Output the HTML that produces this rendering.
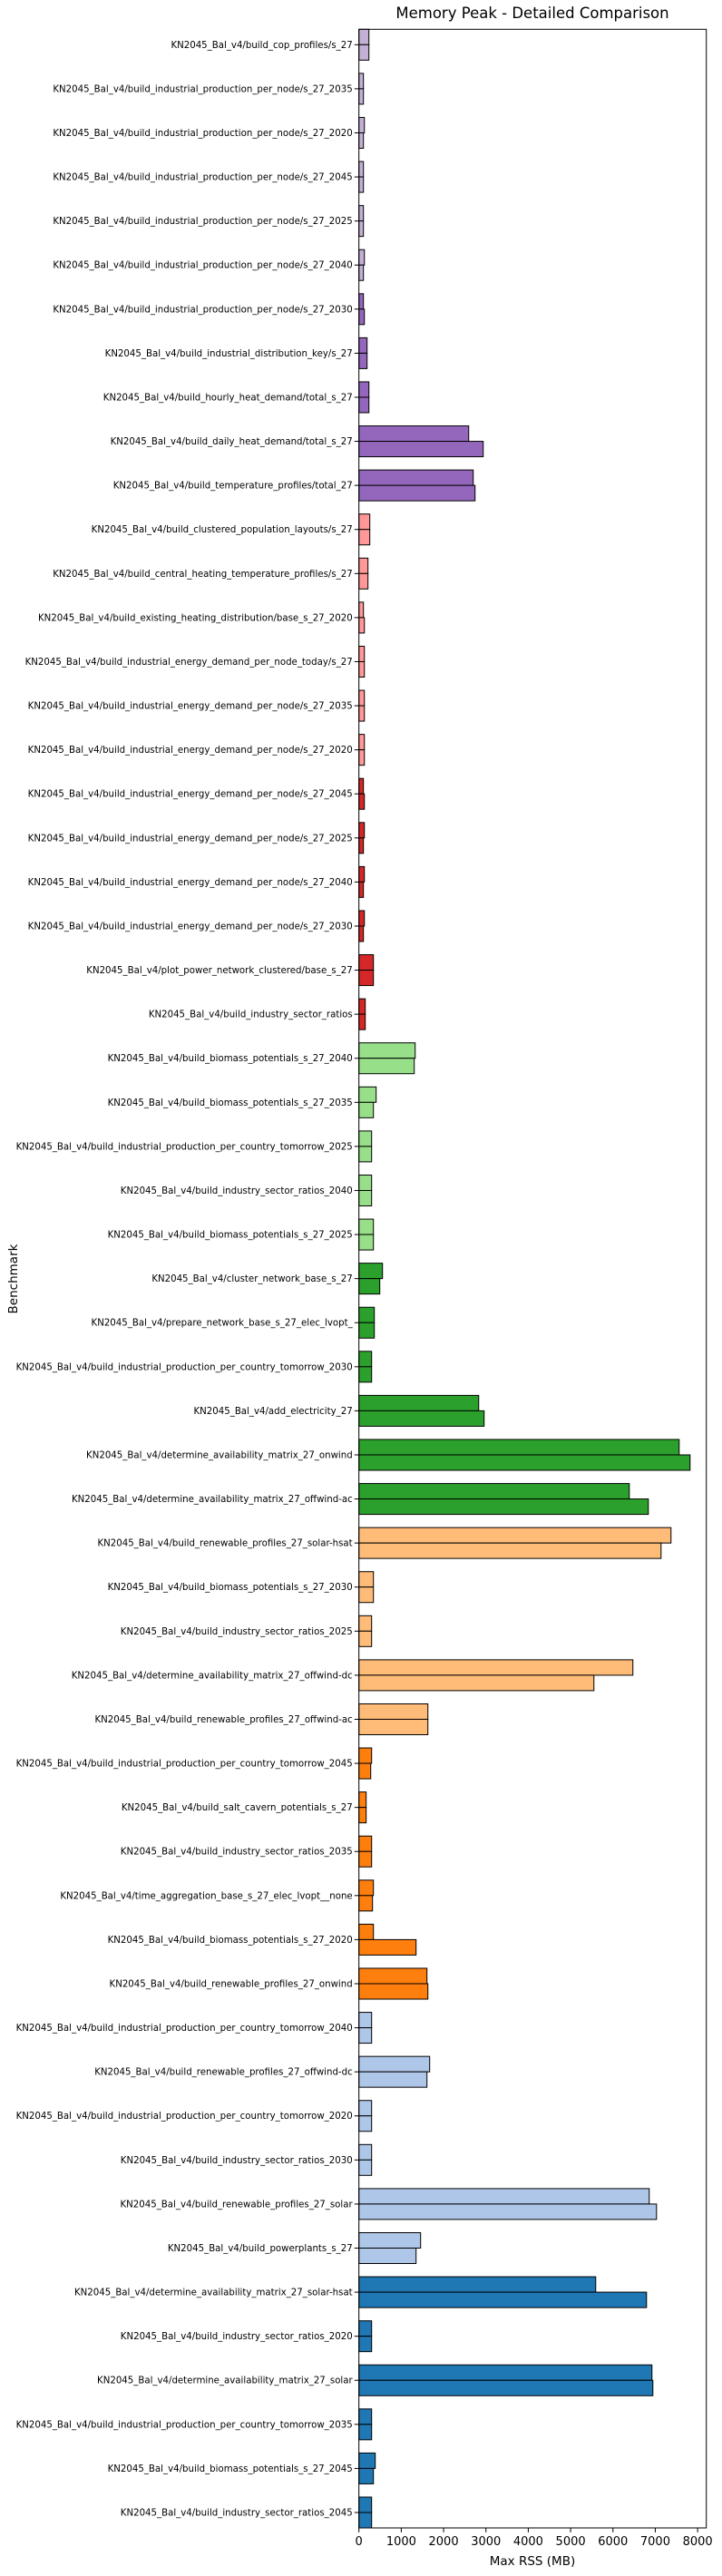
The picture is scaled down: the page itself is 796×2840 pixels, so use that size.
<!DOCTYPE html>
<html><head><meta charset="utf-8"><style>
html,body{margin:0;padding:0;background:#fff;}
svg{display:block;font-family:"DejaVu Sans","Liberation Sans",sans-serif;}
</style></head><body>
<svg id="chart" width="796" height="2840" viewBox="0 0 796 2840" xmlns="http://www.w3.org/2000/svg">
<rect x="0" y="0" width="796" height="2840" fill="#fff"/>
<text x="587" y="20" font-size="16.5" text-anchor="middle" fill="#000">Memory Peak - Detailed Comparison</text>
<text x="19" y="1410" font-size="13.5" text-anchor="middle" transform="rotate(-90 19 1410)" fill="#000">Benchmark</text>
<text x="587" y="2828" font-size="13.5" text-anchor="middle" fill="#000">Max RSS (MB)</text>
<g id="bars"></g>
<g id="axes"></g>
</svg>
<script>
const categories = [
"build_cop_profiles/s_27","build_industrial_production_per_node/s_27_2035","build_industrial_production_per_node/s_27_2020","build_industrial_production_per_node/s_27_2045","build_industrial_production_per_node/s_27_2025","build_industrial_production_per_node/s_27_2040","build_industrial_production_per_node/s_27_2030","build_industrial_distribution_key/s_27","build_hourly_heat_demand/total_s_27","build_daily_heat_demand/total_s_27",
"build_temperature_profiles/total_27","build_clustered_population_layouts/s_27","build_central_heating_temperature_profiles/s_27","build_existing_heating_distribution/base_s_27_2020","build_industrial_energy_demand_per_node_today/s_27","build_industrial_energy_demand_per_node/s_27_2035","build_industrial_energy_demand_per_node/s_27_2020","build_industrial_energy_demand_per_node/s_27_2045","build_industrial_energy_demand_per_node/s_27_2025","build_industrial_energy_demand_per_node/s_27_2040",
"build_industrial_energy_demand_per_node/s_27_2030","plot_power_network_clustered/base_s_27","build_industry_sector_ratios","build_biomass_potentials_s_27_2040","build_biomass_potentials_s_27_2035","build_industrial_production_per_country_tomorrow_2025","build_industry_sector_ratios_2040","build_biomass_potentials_s_27_2025","cluster_network_base_s_27","prepare_network_base_s_27_elec_lvopt_",
"build_industrial_production_per_country_tomorrow_2030","add_electricity_27","determine_availability_matrix_27_onwind","determine_availability_matrix_27_offwind-ac","build_renewable_profiles_27_solar-hsat","build_biomass_potentials_s_27_2030","build_industry_sector_ratios_2025","determine_availability_matrix_27_offwind-dc","build_renewable_profiles_27_offwind-ac","build_industrial_production_per_country_tomorrow_2045",
"build_salt_cavern_potentials_s_27","build_industry_sector_ratios_2035","time_aggregation_base_s_27_elec_lvopt__none","build_biomass_potentials_s_27_2020","build_renewable_profiles_27_onwind","build_industrial_production_per_country_tomorrow_2040","build_renewable_profiles_27_offwind-dc","build_industrial_production_per_country_tomorrow_2020","build_industry_sector_ratios_2030","build_renewable_profiles_27_solar",
"build_powerplants_s_27","determine_availability_matrix_27_solar-hsat","build_industry_sector_ratios_2020","determine_availability_matrix_27_solar","build_industrial_production_per_country_tomorrow_2035","build_biomass_potentials_s_27_2045","build_industry_sector_ratios_2045"];
const seriesA = [236,107,129,107,107,129,107,193,236,2593, 2700,257,214,107,129,129,129,107,129,129, 129,343,150,1329,407,300,300,343,557,364, 300,2829,7564,6386,7371,343,300,6471,1629,300, 171,300,343,343,1607,300,1671,300,300,6857, 1457,5593,300,6921,300,386,300];
const seriesB = [236,107,107,107,107,107,129,193,236,2936, 2743,257,214,129,129,129,129,129,107,107, 107,343,150,1307,343,300,300,343,493,364, 300,2957,7821,6836,7136,343,300,5550,1629,279, 171,300,321,1350,1629,300,1607,300,300,7029, 1350,6793,300,6943,300,343,300];
const groupColors = ["#c5b0d5","#9467bd","#ff9896","#d62728","#98df8a","#2ca02c","#ffbb78","#ff7f0e","#aec7e8","#1f77b4"];
const groupSizes = [6,5,6,6,5,6,5,6,6,6];
const xTicks = [0,1000,2000,3000,4000,5000,6000,7000,8000];
const prefix = "KN2045_Bal_v4/";

const L=395.7, R=778.7, T=32.3, B=2787, XMAX=8205;
const N=categories.length;
const step=(B-T)/(N-1+0.7);
const xs=v=>L+v/XMAX*(R-L);
const yc=i=>T+step*0.35+i*step;
const NS="http://www.w3.org/2000/svg";
const bars=document.getElementById('bars'), axes=document.getElementById('axes');
function mk(tag,attrs,parent){const e=document.createElementNS(NS,tag);for(const k in attrs)e.setAttribute(k,attrs[k]);parent.appendChild(e);return e;}
const colorOf=[];groupSizes.forEach((n,g)=>{for(let k=0;k<n;k++)colorOf.push(groupColors[g]);});
const bh=step*0.35;
for(let i=0;i<N;i++){
  const c=yc(i);
  const a=mk('rect',{x:L,y:c-bh,width:xs(seriesA[i])-L,height:bh,fill:colorOf[i],stroke:'#000','stroke-width':1},bars);
  
  
  const b=mk('rect',{x:L,y:c,width:xs(seriesB[i])-L,height:bh,fill:colorOf[i],stroke:'#000','stroke-width':1},bars);
  
  
  mk('line',{x1:L-4.9,x2:L,y1:c,y2:c,stroke:'#000','stroke-width':1},axes);
  const t=mk('text',{x:L-7,y:c+3.5,'font-size':10.2,'text-anchor':'end',fill:'#000'},axes);
  t.textContent=prefix+categories[i];
  
  
}
xTicks.forEach(v=>{
  const x=xs(v);
  mk('line',{x1:x,x2:x,y1:B,y2:B+4.9,stroke:'#000','stroke-width':1},axes);
  const t=mk('text',{x:x,y:B+19,'font-size':13,'text-anchor':'middle',fill:'#000'},axes);
  t.textContent=v;
  
  
});
const fr=mk('rect',{x:L,y:T,width:R-L,height:B-T,fill:'none',stroke:'#000','stroke-width':1},axes);


</script>
</body></html>
